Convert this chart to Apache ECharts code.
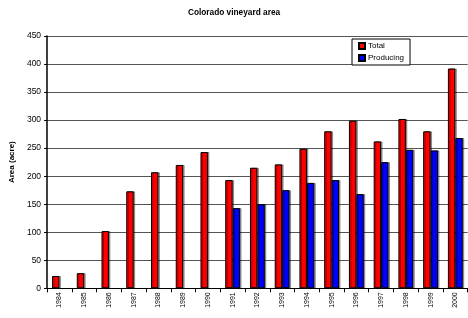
<!DOCTYPE html>
<html>
<head>
<meta charset="utf-8">
<script src="https://cdn.jsdelivr.net/npm/echarts@6/dist/echarts.min.js"></script>
<style>
  html, body { margin: 0; padding: 0; background: #fff; }
  #main { width: 468px; height: 318px; }
</style>
</head>
<body>
<div id="main"></div>
<script>
// data
var years = ['1984', '1985', '1986', '1987', '1988', '1989', '1990', '1991', '1992',
  '1993', '1994', '1995', '1996', '1997', '1998', '1999', '2000'];
var total = [22, 27, 102, 173, 207, 220, 243, 193, 215, 221, 249, 280, 299, 262, 302, 280, 392];
var producing = [null, null, null, null, null, null, null, 143, 150, 175, 188, 193, 168, 225, 247, 246, 268];
var yTicks = [0, 50, 100, 150, 200, 250, 300, 350, 400, 450];

var font = 'Arial, "Liberation Sans", sans-serif';
var chart = echarts.init(document.getElementById('main'), null, { renderer: 'canvas' });

function barStyle(color) {
  return {
    color: color,
    borderColor: '#000',
    borderWidth: 1,
    shadowColor: 'rgba(0,0,0,0.35)',
    shadowOffsetX: 1.5,
    shadowOffsetY: 0,
    shadowBlur: 0
  };
}

var option = {
  animation: false,
  backgroundColor: '#fff',
  textStyle: { fontFamily: font },
  title: {
    text: 'Colorado vineyard area',
    left: 'center',
    top: 4,
    textStyle: { fontSize: 8.3, fontWeight: 'bold', color: '#000', fontFamily: font }
  },
  legend: {
    orient: 'vertical',
    left: 352,
    top: 39,
    padding: [2, 6, 2, 6],
    icon: 'rect',
    itemWidth: 6,
    itemHeight: 6,
    itemGap: 2,
    borderColor: '#000',
    borderWidth: 1,
    backgroundColor: '#fff',
    data: ['Total', 'Producing'],
    textStyle: { fontSize: 8, color: '#000', lineHeight: 10, fontFamily: font, padding: [0, 0, 0, -2] }
  },
  grid: { left: 42.7, right: 0.3, top: 36, bottom: 29.7, containLabel: false },
  xAxis: {
    type: 'category',
    data: years,
    axisLine: { lineStyle: { color: '#000', width: 1 } },
    axisTick: { show: true, length: 4, lineStyle: { color: '#000' } },
    axisLabel: { rotate: 90, fontSize: 7, color: '#000', margin: 4, fontFamily: font, interval: 0 },
    splitLine: { show: false }
  },
  yAxis: {
    type: 'value',
    min: yTicks[0],
    max: yTicks[yTicks.length - 1],
    interval: 50,
    name: 'Area (acre)',
    nameLocation: 'middle',
    nameGap: 28,
    nameTextStyle: { fontSize: 8, fontWeight: 'bold', color: '#000', fontFamily: font },
    axisLine: { show: true, lineStyle: { color: '#000', width: 1.5 } },
    axisTick: { show: true, length: 3, lineStyle: { color: '#000' } },
    axisLabel: { fontSize: 8.5, color: '#000', margin: 6, fontFamily: font },
    splitLine: { show: true, lineStyle: { color: '#555', width: 1 } }
  },
  series: [
    {
      name: 'Total',
      type: 'bar',
      data: total,
      barGap: '0%',
      barCategoryGap: '40%',
      itemStyle: barStyle('#ff0000')
    },
    {
      name: 'Producing',
      type: 'bar',
      data: producing,
      barGap: '0%',
      barCategoryGap: '40%',
      itemStyle: barStyle('#0000ff')
    }
  ]
};
chart.setOption(option);
</script>
</body>
</html>
